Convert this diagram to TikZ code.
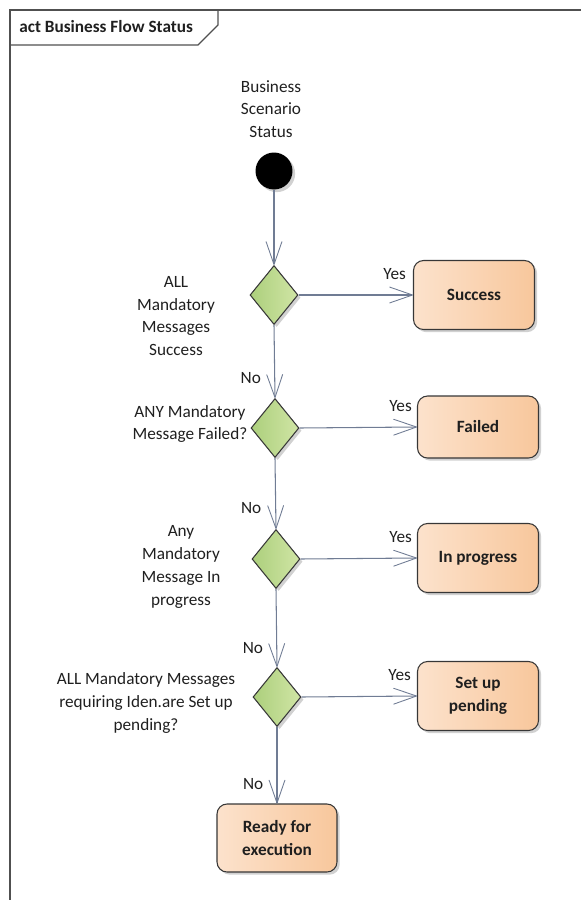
\documentclass[tikz,border=0pt]{standalone}
\usepackage{fontspec}
\setmainfont{Carlito}
\usetikzlibrary{shapes.geometric,arrows.meta,shadows}
\definecolor{flowline}{RGB}{112,124,148}
\definecolor{frameline}{RGB}{80,80,80}
\definecolor{peach1}{RGB}{252,226,204}
\definecolor{peach2}{RGB}{248,199,156}
\definecolor{green1}{RGB}{172,207,124}
\definecolor{green2}{RGB}{208,229,165}
\definecolor{edge1}{RGB}{55,55,55}
\tikzset{
  lbl/.style={font=\fontsize{9.8pt}{13pt}\selectfont, text=black!88, align=center, inner sep=0pt},
  softshadow/.style={drop shadow={shadow xshift=1.5pt, shadow yshift=-1.5pt, opacity=0.3, fill=black!60}},
  decision/.style={diamond, draw=edge1, line width=0.6pt, left color=green1, right color=green2,
    minimum width=0.96cm, minimum height=1.18cm, inner sep=0pt, softshadow},
  state/.style={rectangle, rounded corners=0.2cm, draw=edge1, line width=0.6pt,
    left color=peach1, right color=peach2, minimum width=2.42cm, minimum height=1.38cm,
    align=center, text=black!88, font=\bfseries\fontsize{9.8pt}{13pt}\selectfont, softshadow},
  flow/.style={draw=flowline, line width=0.6pt,
    -{Straight Barb[length=13pt,width=9pt,line width=0.5pt,round]}},
}

\begin{document}
\begin{tikzpicture}[x=0.02cm,y=-0.02cm]
\useasboundingbox (0,0) rectangle (581,900);
%
% frame and tab
\draw[frameline, line width=0.8pt] (10,900) -- (10,10) -- (581,10);
\draw[frameline, line width=0.8pt] (10,45) -- (198,45) -- (218,25) -- (218,10);
\node[lbl, font=\bfseries\fontsize{9.8pt}{13pt}\selectfont, anchor=west] (title) at (19,27) {act Business Flow Status};
%
% start
\node[lbl] (startlbl) at (271,109) {Business\\Scenario\\Status};
\node[circle, fill=black, minimum size=0.74cm, inner sep=0pt, softshadow] (start) at (274,171) {};
%
% decisions
\node[decision] (d1) at (274,295) {};
\node[decision] (d2) at (275,428) {};
\node[decision] (d3) at (276,559) {};
\node[decision] (d4) at (277,697) {};
%
\node[lbl] (d1lbl) at (176,316) {ALL\\Mandatory\\Messages\\Success};
\node[lbl] (d2lbl) at (190,424) {ANY Mandatory\\Message Failed?};
\node[lbl] (d3lbl) at (181,567) {Any\\Mandatory\\Message In\\progress};
\node[lbl] (d4lbl) at (146,703) {ALL Mandatory Messages\\requiring Iden.are Set up\\pending?};
%
% states
\node[state] (succ) at (474,295) {Success};
\node[state, minimum height=1.24cm] (fail) at (478,427) {Failed};
\node[state] (prog) at (478,558) {In progress};
\node[state] (setup) at (478,696) {Set up\\pending};
\node[state, minimum width=2.4cm, minimum height=1.36cm] (ready) at (277,838) {Ready for\\execution};
%
% flows
\draw[flow] (start) -- (d1.north);
\draw[flow] (d1.east) -- node[lbl, pos=.84, yshift=12pt]{Yes} (succ.west);
\draw[flow] (d2.east) -- node[lbl, pos=.86, yshift=12pt]{Yes} (fail.west);
\draw[flow] (d3.east) -- node[lbl, pos=.86, yshift=12pt]{Yes} (prog.west);
\draw[flow] (d4.east) -- node[lbl, pos=.85, yshift=12pt]{Yes} (setup.west);
%
\draw[flow] (d1.south) -- node[lbl, pos=.73, xshift=-13.6pt]{No} (d2.north);
\draw[flow] (d2.south) -- node[lbl, pos=.71, xshift=-14pt]{No} (d3.north);
\draw[flow] (d3.south) -- node[lbl, pos=.76, xshift=-13.6pt]{No} (d4.north);
\draw[flow] (d4.south) -- node[lbl, pos=.74, xshift=-13.6pt]{No} (ready.north);
\end{tikzpicture}
\end{document}
